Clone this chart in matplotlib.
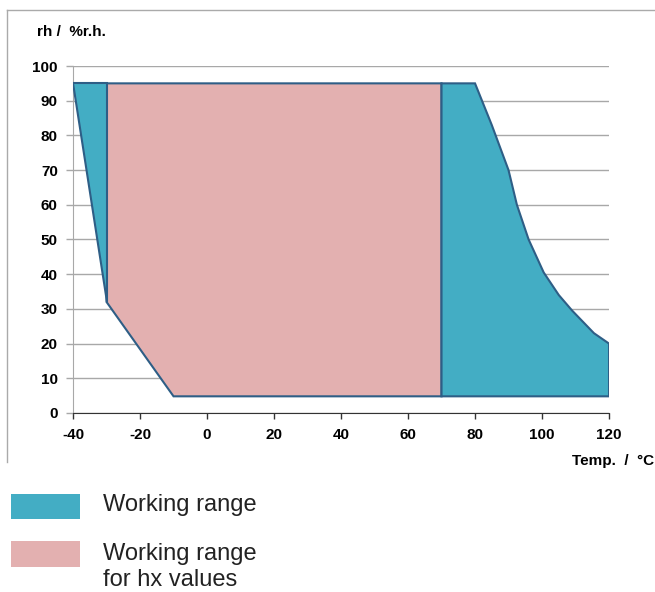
import matplotlib
matplotlib.use('Agg')
import matplotlib.pyplot as plt
from matplotlib.patches import Rectangle
from matplotlib.lines import Line2D

plt.rcParams['font.family'] = ['Liberation Sans', 'DejaVu Sans']
plt.rcParams['axes.unicode_minus'] = False

# working range outline (temperature / rel. humidity)
work_left_t = [-40, -30, -30]
work_left_rh = [95, 95, 32]
work_right_t = [70, 80, 85, 90, 92.5, 96, 100.5, 105, 109, 115.5, 120, 120, 70]
work_right_rh = [95, 95, 83, 70, 60, 50, 40.5, 34, 29.5, 23, 20, 4.8, 4.8]

# working range for hx values
hx_t = [-30, 70, 70, -10, -30]
hx_rh = [95, 95, 4.8, 4.8, 32]

x_ticks = [-40, -20, 0, 20, 40, 60, 80, 100, 120]
y_ticks = [0, 10, 20, 30, 40, 50, 60, 70, 80, 90, 100]

teal = '#43ADC4'
pink = '#E3B0B0'
edge = '#2E5E86'

fig = plt.figure(figsize=(6.55, 5.92), dpi=100)
ax = fig.add_axes([0.1115, 0.3024, 0.8183, 0.5861])

ax.fill(hx_t, hx_rh, facecolor=pink, edgecolor=edge, lw=1.5, zorder=3)
ax.fill(work_left_t, work_left_rh, facecolor=teal, edgecolor=edge, lw=1.5, zorder=3)
ax.fill(work_right_t, work_right_rh, facecolor=teal, edgecolor=edge, lw=1.5, zorder=3)

ax.set_xlim(-40, 120)
ax.set_ylim(0, 100)
ax.set_xticks(x_ticks)
ax.set_yticks(y_ticks)
ax.yaxis.grid(True, color='#A8A8A8', lw=1)
ax.set_axisbelow(True)
for s in ['top', 'right']:
    ax.spines[s].set_visible(False)
ax.spines['left'].set_color('#A8A8A8')
ax.spines['bottom'].set_color('#333333')
ax.tick_params(axis='y', color='#A8A8A8', length=5, width=1, pad=6)
ax.tick_params(axis='x', color='#333333', length=4, width=1, pad=7)
for lab in ax.get_xticklabels() + ax.get_yticklabels():
    lab.set_fontweight('bold')
    lab.set_fontsize(11)

fig.text(37 / 655, 1 - 32 / 592, 'rh /  %r.h.', fontsize=11, fontweight='bold',
         va='center', ha='left')
fig.text(654 / 655, 1 - 461 / 592, 'Temp.  /  °C', fontsize=11, fontweight='bold',
         va='center', ha='right')

# outer frame
fig.add_artist(Line2D([7 / 655, 7 / 655], [1 - 10 / 592, 1 - 462 / 592],
                      color='#AAAAAA', lw=1))
fig.add_artist(Line2D([7 / 655, 1], [1 - 10 / 592, 1 - 10 / 592],
                      color='#AAAAAA', lw=1))

# legend
fig.add_artist(Rectangle((11 / 655, 1 - 519 / 592), 69 / 655, 25 / 592,
                         transform=fig.transFigure, facecolor=teal, edgecolor='none'))
fig.add_artist(Rectangle((11 / 655, 1 - 567 / 592), 69 / 655, 26 / 592,
                         transform=fig.transFigure, facecolor=pink, edgecolor='none'))
fig.text(103 / 655, 1 - 505 / 592, 'Working range', fontsize=17,
         color='#222222', va='center', ha='left')
fig.text(103 / 655, 1 - 554 / 592, 'Working range', fontsize=17,
         color='#222222', va='center', ha='left')
fig.text(103 / 655, 1 - 580 / 592, 'for hx values', fontsize=17,
         color='#222222', va='center', ha='left')

fig.savefig('out.png', dpi=100)
